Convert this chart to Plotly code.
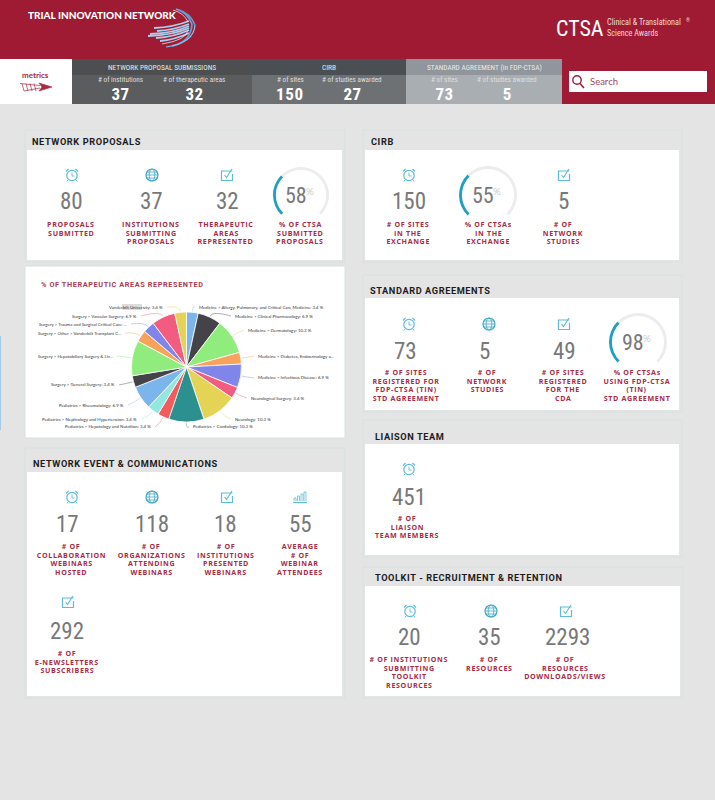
#!/usr/bin/env python3
"""plot.py - Trial Innovation Network metrics dashboard, drawn on one Plotly canvas."""
import math

import plotly.graph_objects as go

W, H = 715, 800

# ---- palette ----------------------------------------------------------------
CRIMSON = "#9f1b33"
LABEL = "#a82a45"
PAGE = "#e4e4e4"
EDGE = "#d6e0e1"
NUM = "#77787a"
ICON = "#5dbcdc"
GLOBE = "#3aa6c8"
ARC = "#1f9fc4"
RING = "#ececec"
TRACK = "Open Sans"   # tracked caps, see the CSS rules at the bottom
TITLE = "Roboto"
BODY = "Lato"
NARROW = "'Liberation Sans Narrow', 'Roboto Condensed', Roboto"

# ---- data -------------------------------------------------------------------
pie_labels = ["Medicine > Allergy, Pulmonary, and Critical Care Medicine: 3.4 %",
              "Medicine > Clinical Pharmacology: 6.9 %",
              "Medicine > Dermatology: 10.3 %",
              "Medicine > Diabetes, Endocrinology a...",
              "Medicine > Infectious Disease: 6.9 %",
              "Neurological Surgery: 3.4 %",
              "Neurology: 10.3 %",
              "Pediatrics > Cardiology: 10.3 %",
              "Pediatrics > Hepatology and Nutrition: 3.4 %",
              "Pediatrics > Nephrology and Hypertension: 3.4 %",
              "Pediatrics > Rheumatology: 6.9 %",
              "Surgery > General Surgery: 3.4 %",
              "Surgery > Hepatobiliary Surgery & Liv...",
              "Surgery > Other > Vanderbilt Transplant C...",
              "Surgery > Trauma and Surgical Critical Care: ...",
              "Surgery > Vascular Surgery: 6.9 %",
              "Vanderbilt University: 3.4 %"]
pie_values = [3.4, 6.9, 10.3, 3.4, 6.9, 3.4, 10.3, 10.3, 3.4, 3.4, 6.9, 3.4, 10.3, 3.4, 3.4, 6.9, 3.4]
pie_colors = ["#7cb5ec", "#434348", "#90ed7d", "#f7a35c", "#8085e9", "#f15c80", "#e4d354", "#2b908f",
              "#f45b5b", "#91e8e1", "#7cb5ec", "#434348", "#90ed7d", "#f7a35c", "#8085e9", "#f15c80", "#e4d354"]
# gauges show the same quarter-turn arc whatever the percentage: arc, track, gap
gauge_arc = [90, 180, 90]

bar_sections = ["NETWORK PROPOSAL SUBMISSIONS", "CIRB", "STANDARD AGREEMENT (in FDP-CTSA)"]
bar_captions = ["# of institutions", "# of therapeutic areas", "# of sites", "# of studies awarded",
                "# of sites", "# of studies awarded"]
bar_values = ["37", "32", "150", "27", "73", "5"]

proposals_values = ["80", "37", "32"]
proposals_labels = [["PROPOSALS", "SUBMITTED"], ["INSTITUTIONS", "SUBMITTING", "PROPOSALS"],
                    ["THERAPEUTIC", "AREAS", "REPRESENTED"]]
proposals_pct, proposals_pct_label = "58", ["% OF CTSA", "SUBMITTED", "PROPOSALS"]

cirb_values = ["150", "5"]
cirb_labels = [["# OF SITES", "IN THE", "EXCHANGE"], ["# OF", "NETWORK", "STUDIES"]]
cirb_pct, cirb_pct_label = "55", ["% OF CTSAs", "IN THE", "EXCHANGE"]

agreement_values = ["73", "5", "49"]
agreement_labels = [["# OF SITES", "REGISTERED FOR", "FDP-CTSA (TIN)", "STD AGREEMENT"],
                    ["# OF", "NETWORK", "STUDIES"],
                    ["# OF SITES", "REGISTERED", "FOR THE", "CDA"]]
agreement_pct, agreement_pct_label = "98", ["% OF CTSAs", "USING FDP-CTSA", "(TIN)", "STD AGREEMENT"]

event_values = ["17", "118", "18", "55", "292"]
event_labels = [["# OF", "COLLABORATION", "WEBINARS", "HOSTED"],
                ["# OF", "ORGANIZATIONS", "ATTENDING", "WEBINARS"],
                ["# OF", "INSTITUTIONS", "PRESENTED", "WEBINARS"],
                ["AVERAGE", "# OF", "WEBINAR", "ATTENDEES"],
                ["# OF", "E-NEWSLETTERS", "SUBSCRIBERS"]]

liaison_values = ["451"]
liaison_labels = [["# OF", "LIAISON", "TEAM MEMBERS"]]

toolkit_values = ["20", "35", "2293"]
toolkit_labels = [["# OF INSTITUTIONS", "SUBMITTING", "TOOLKIT", "RESOURCES"],
                  ["# OF", "RESOURCES"],
                  ["# OF", "RESOURCES", "DOWNLOADS/VIEWS"]]

shapes, notes = [], []


# ---- pixel helpers (the canvas is a fixed 715x800 with no margins) -----------
def px(x):
    return x / W


def py(y):
    return 1 - y / H


def rect(x0, y0, x1, y1, fill, line=None, width=1):
    shapes.append(dict(type="rect", xref="paper", yref="paper", x0=px(x0), x1=px(x1), y0=py(y0), y1=py(y1),
                       fillcolor=fill, line=dict(color=line or fill, width=width if line else 0), layer="below"))


def oval(cx, cy, rx, ry, color, width=1.1, fill="rgba(0,0,0,0)"):
    shapes.append(dict(type="circle", xref="paper", yref="paper", x0=px(cx - rx), x1=px(cx + rx),
                       y0=py(cy + ry), y1=py(cy - ry), fillcolor=fill, line=dict(color=color, width=width)))


def stroke(points, color, width=1.1, layer="above", close=False, fill=None):
    d = "M" + " L".join(f"{px(x):.5f},{py(y):.5f}" for x, y in points) + (" Z" if close else "")
    shapes.append(dict(type="path", xref="paper", yref="paper", path=d, layer=layer,
                       fillcolor=fill, line=dict(color=color, width=width)))


def curve(p0, c, p1, color, width=1.0, opacity=1.0):
    d = (f"M{px(p0[0]):.5f},{py(p0[1]):.5f} Q{px(c[0]):.5f},{py(c[1]):.5f} {px(p1[0]):.5f},{py(p1[1]):.5f}")
    shapes.append(dict(type="path", xref="paper", yref="paper", path=d, layer="above", opacity=opacity,
                       line=dict(color=color, width=width)))


def txt(x, y, text, size, color, family=BODY, weight=400, anchor="center"):
    notes.append(dict(x=px(x), y=py(y), xref="paper", yref="paper", text=text, showarrow=False,
                      xanchor=anchor, yanchor="middle", align=anchor, borderpad=0,
                      font=dict(family=family, size=size, color=color, weight=weight)))


# ---- icons --------------------------------------------------------------------
def clock(x, y):
    oval(x, y + 0.5, 5.2, 5.2, ICON, 1.2)
    stroke([(x, y - 2.5), (x, y + 1), (x + 2.5, y + 1)], ICON, 0.9)
    stroke([(x - 6, y - 3.5), (x - 3.5, y - 6)], ICON, 1.2)
    stroke([(x + 6, y - 3.5), (x + 3.5, y - 6)], ICON, 1.2)
    stroke([(x - 4, y + 5), (x - 5, y + 6.5)], ICON, 1)
    stroke([(x + 4, y + 5), (x + 5, y + 6.5)], ICON, 1)


def globe(x, y):
    oval(x, y, 6, 6, GLOBE, 1.2)
    oval(x, y, 2.8, 6, GLOBE, 0.8)
    stroke([(x - 6, y), (x + 6, y)], GLOBE, 0.8)
    stroke([(x - 5, y - 3), (x + 5, y - 3)], GLOBE, 0.8)
    stroke([(x - 5, y + 3), (x + 5, y + 3)], GLOBE, 0.8)


def check(x, y):
    stroke([(x + 5.5, y - 4), (x - 5.5, y - 4), (x - 5.5, y + 5.5), (x + 5.5, y + 5.5), (x + 5.5, y - 1)], ICON, 1.2)
    stroke([(x - 2.5, y), (x - 0.5, y + 2.5), (x + 5, y - 6)], ICON, 1.1)


def bars(x, y):
    for dx, top in [(-5, 1), (-1.5, -1), (2, -3), (5, -5)]:
        stroke([(x + dx - 1, y + 4), (x + dx - 1, y + top), (x + dx + 1, y + top), (x + dx + 1, y + 4)], ICON, 0.8)
    stroke([(x - 7, y + 5.5), (x + 7, y + 5.5)], ICON, 1)


# ---- page pieces ---------------------------------------------------------------
def panel(x0, y0, x1, y1, head_to, title, title_x, title_y):
    rect(x0, y0, x1, y1, PAGE, EDGE, 1)
    rect(x0 + 2, head_to, x1 - 3, y1 - 2, "#ffffff")
    txt(title_x, title_y, title, 9.2, "#1b1b1d", TITLE, 700, "left")


def label(x, y, lines):
    for i, line in enumerate(lines):
        txt(x, y + i * 8.7, line, 7.1, LABEL, TRACK, 700)


def metric(icon, ix, iy, nx, ny, value, lx, ly, lines):
    icon(ix, iy)
    txt(nx, ny, value, 23, NUM, NARROW, 400)
    label(lx, ly, lines)


def gauge(cx, cy, r, pct, lx, ly, lines, traces):
    traces.append(go.Pie(values=gauge_arc, sort=False, direction="clockwise", rotation=225, hole=0.9,
                         domain=dict(x=[px(cx - r), px(cx + r)], y=[py(cy + r), py(cy - r)]),
                         marker=dict(colors=[ARC, RING, "rgba(0,0,0,0)"], line=dict(width=0)),
                         textinfo="none", hoverinfo="skip", showlegend=False))
    txt(cx - 5, cy, pct, 22, NUM, NARROW, 400)
    txt(cx + 9, cy - 4, "%", 10, "#a9a9a9", BODY, 300)
    label(lx, ly, lines)


traces = []

# header band and counters bar
rect(0, 0, W, 104, CRIMSON)
txt(27, 15, "TRIAL INNOVATION NETWORK", 10, "#ffffff", BODY, 900, "left")
for x0, y0, y1 in [(154, 28, 21), (157, 31, 24), (150, 34, 26), (148, 36, 28), (156, 38, 30), (160, 41, 33)]:
    curve((x0, y0), (174, y0 - 1), (189, y1), "#a9d0ee", 1.8)
for a, b, width, col in [((176, 9), (192, 24), 1.6, "#6aa9dc"), ((179, 10), (195, 25), 1.6, "#5f9fd6"),
                         ((173, 10), (188, 22), 0.8, "#d6e8f5")]:
    curve(a, (a[0] + 11, a[1] + 3), b, col, width)
for a, b, width, col in [((192, 24), (172, 46), 1.8, "#5f9fd6"), ((195, 25), (166, 47), 1.2, "#8ec5e8"),
                         ((188, 30), (162, 44), 0.8, "#d6e8f5")]:
    curve(a, (a[0] - 1, b[1] - 4), b, col, width)
txt(555, 28, "CTSA", 22, "#ffffff", NARROW, 400, "left")
txt(606, 22, "Clinical &amp; Translational", 8.2, "#f1d9dd", NARROW, 400, "left")
txt(685, 20, "®", 5, "#f1d9dd", NARROW, 400, "left")
txt(606, 33, "Science Awards", 8.2, "#f1d9dd", NARROW, 400, "left")

rect(0, 59, 72, 104, "#ffffff")
txt(35, 75, "metrics", 8, LABEL, BODY, 700)
for i in range(4):
    stroke([(22 + i * 4, 83.5), (24 + i * 4, 91)], LABEL, 0.7)
stroke([(20, 83.5), (40, 85.5)], LABEL, 0.7)
stroke([(24, 91), (40, 88)], LABEL, 0.7)
stroke([(39, 83), (52, 87), (39, 91), (42, 87)], LABEL, 0.6, close=True, fill=LABEL)

bar_blocks = [(72, 252, "#4c4e50", "#5b5c5e"), (252, 406, "#4a4f53", "#6e7174"), (406, 562, "#90969c", "#a9aeb3")]
section_centers = [162, 329, 484]
caption_centers = [120, 194, 290, 352, 444, 507]
for (x0, x1, dark, light), name, cx in zip(bar_blocks, bar_sections, section_centers):
    rect(x0, 59, x1, 75, dark)
    rect(x0, 75, x1, 104, light)
    txt(cx, 67, name, 7.4, "#e8e8e8", NARROW, 400)
for cx, caption, value in zip(caption_centers, bar_captions, bar_values):
    txt(cx, 80, caption, 7.2, "#dedede", NARROW, 400)
    txt(cx, 94, value, 17, "#ffffff", NARROW, 700)

rect(569, 71, 707, 92, "#ffffff")
oval(577, 80, 4.2, 4.2, CRIMSON, 1.4)
stroke([(580, 83.5), (584, 88)], CRIMSON, 1.6)
txt(589, 81, "Search", 9.5, "#a8455a", BODY, 400, "left")

# stray accent on the left edge of the page
rect(0, 336, 1, 430, "#a6c9e6")

# ---- network proposals ----------------------------------------------------------
panel(25, 130, 345, 262, 150, "NETWORK PROPOSALS", 31, 141)
for icon, ix, nx, lx, v, lines in zip([clock, globe, check], [72, 152, 227], [71, 151, 227], [71, 151, 226],
                                       proposals_values, proposals_labels):
    metric(icon, ix, 175, nx, 202, v, lx, 224, lines)
gauge(301, 195, 28, proposals_pct, 300, 224, proposals_pct_label, traces)

# ---- therapeutic areas pie --------------------------------------------------------
rect(25, 266, 345, 438, "#ffffff", EDGE, 1)
txt(40, 284, "% OF THERAPEUTIC AREAS REPRESENTED", 7.3, "#a83a52", TITLE, 700, "left")
CX, CY, R = 186.5, 367, 55
traces.append(go.Pie(labels=pie_labels, values=pie_values, sort=False, direction="clockwise", rotation=0,
                     domain=dict(x=[px(CX - R), px(CX + R)], y=[py(CY + R), py(CY - R)]),
                     marker=dict(colors=pie_colors, line=dict(color="#ffffff", width=0.8)),
                     textinfo="none", hoverinfo="label", showlegend=False))

pie_anchors = [(198, 307, "left"), (234, 316, "left"), (247, 330, "left"), (257, 356, "left"), (257, 378, "left"),
               (250, 398, "left"), (234, 419, "left"), (192, 427, "left"), (152, 427, "right"), (138, 419, "right"),
               (125, 405, "right"), (116, 385, "right"), (114, 356, "right"), (122, 333, "right"), (128, 324, "right"),
               (138, 316, "right"), (164, 307, "right")]
rect(122, 304, 142, 310, "#dddddd")
total = sum(pie_values)
run = 0
for name, v, col, (lx, ly, side) in zip(pie_labels, pie_values, pie_colors, pie_anchors):
    mid = (run + v / 2) / total * 2 * math.pi
    run += v
    sx, sy = math.sin(mid), -math.cos(mid)
    gap = 3 if side == "left" else -3
    curve((CX + (R + 1) * sx, CY + (R + 1) * sy), (CX + (R + 7) * sx, CY + (R + 7) * sy), (lx - gap, ly), col, 0.6, 0.7)
    txt(lx, ly, name, 4.4, "#333333", BODY, 400, side)

# ---- network event & communications -------------------------------------------------
panel(25, 448, 345, 698, 472, "NETWORK EVENT &amp; COMMUNICATIONS", 32, 463)
for icon, ix, nx, lx, v, lines in zip([clock, globe, check, bars], [72, 152, 227, 300], [67, 152, 226, 300],
                                       [71, 151, 226, 300], event_values, event_labels):
    metric(icon, ix, 497, nx, 524, v, lx, 546, lines)
metric(check, 68, 602, 67, 631, event_values[4], 67, 653, event_labels[4])

# ---- CIRB ---------------------------------------------------------------------------
panel(363, 130, 682, 262, 150, "CIRB", 370, 141)
metric(clock, 409, 175, 409, 202, cirb_values[0], 408, 224, cirb_labels[0])
gauge(488, 195, 29, cirb_pct, 488, 224, cirb_pct_label, traces)
metric(check, 564, 175, 563, 202, cirb_values[1], 563, 224, cirb_labels[1])

# ---- standard agreements --------------------------------------------------------------
panel(363, 275, 682, 412, 298, "STANDARD AGREEMENTS", 369, 290)
for icon, ix, nx, lx, v, lines in zip([clock, globe, check], [409, 489, 564], [405, 484, 564], [406, 487, 563],
                                       agreement_values, agreement_labels):
    metric(icon, ix, 324, nx, 351, v, lx, 372, lines)
gauge(638, 342, 29, agreement_pct, 637, 372, agreement_pct_label, traces)

# ---- liaison team -----------------------------------------------------------------------
panel(363, 420, 682, 557, 444, "LIAISON TEAM", 374, 436)
metric(clock, 409, 469, 409, 497, liaison_values[0], 407, 518, liaison_labels[0])

# ---- toolkit -------------------------------------------------------------------------------
panel(363, 567, 683, 698, 586, "TOOLKIT - RECRUITMENT &amp; RETENTION", 374, 577)
for icon, ix, nx, lx, v, lines in zip([clock, globe, check], [410, 491, 566], [409, 489, 567], [409, 489, 565],
                                       toolkit_values, toolkit_labels):
    metric(icon, ix, 611, nx, 637, v, lx, 659, lines)

fig = go.Figure(traces)
fig.update_layout(width=W, height=H, autosize=False, margin=dict(l=0, r=0, t=0, b=0),
                  paper_bgcolor=PAGE, plot_bgcolor=PAGE, shapes=shapes, annotations=notes, showlegend=False)

# annotations have no letter-spacing attribute, so track the caps with small CSS rules
post = ("document.body.style.margin='0';"
        "var s=document.createElement('style');"
        "s.textContent='.annotation-text[style*=\"Open Sans\"]{letter-spacing:.65px}"
        ".annotation-text[style*=\"Roboto\"][style*=\"700\"]{letter-spacing:.6px}';"
        "document.head.appendChild(s);")
fig.write_html("out.html", post_script=post, config={"displayModeBar": False, "responsive": False})
